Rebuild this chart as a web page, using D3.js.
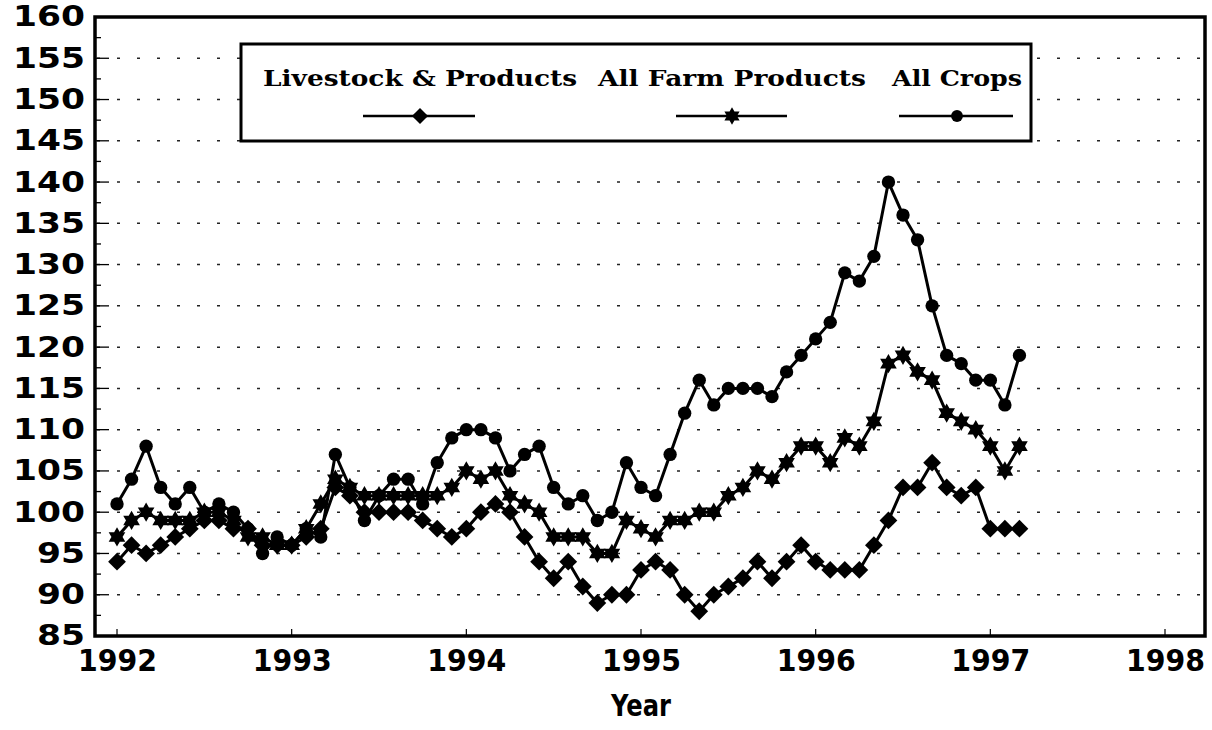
<!DOCTYPE html>
<html>
<head>
<meta charset="utf-8">
<script src="https://cdn.jsdelivr.net/npm/d3@7"></script>
<style>
  html, body { margin: 0; padding: 0; background: #fff; }
  svg { display: block; }
</style>
</head>
<body>
<svg id="chart" width="1212" height="730"></svg>
<script>
// ---- data (monthly, Jan 1992 .. Mar 1997) ----
const startYear = 1992;
const livestock = [
  94, 96, 95, 96, 97, 98, 99, 99, 98, 98, 96, 96,
  96, 97, 98, 103, 102, 100, 100, 100, 100, 99, 98, 97,
  98, 100, 101, 100, 97, 94, 92, 94, 91, 89, 90, 90,
  93, 94, 93, 90, 88, 90, 91, 92, 94, 92, 94, 96,
  94, 93, 93, 93, 96, 99, 103, 103, 106, 103, 102, 103,
  98, 98, 98
];
const allFarm = [
  97, 99, 100, 99, 99, 99, 100, 100, 99, 97, 97, 96,
  96, 98, 101, 104, 103, 102, 102, 102, 102, 102, 102, 103,
  105, 104, 105, 102, 101, 100, 97, 97, 97, 95, 95, 99,
  98, 97, 99, 99, 100, 100, 102, 103, 105, 104, 106, 108,
  108, 106, 109, 108, 111, 118, 119, 117, 116, 112, 111, 110,
  108, 105, 108
];
const allCrops = [
  101, 104, 108, 103, 101, 103, 100, 101, 100, 98, 95, 97,
  96, 98, 97, 107, 103, 99, 102, 104, 104, 101, 106, 109,
  110, 110, 109, 105, 107, 108, 103, 101, 102, 99, 100, 106,
  103, 102, 107, 112, 116, 113, 115, 115, 115, 114, 117, 119,
  121, 123, 129, 128, 131, 140, 136, 133, 125, 119, 118, 116,
  116, 113, 119
];
const yearTicks = [1992, 1993, 1994, 1995, 1996, 1997, 1998];
const yTicks = [85, 90, 95, 100, 105, 110, 115, 120, 125, 130, 135, 140, 145, 150, 155, 160];
const seriesNames = ["Livestock & Products", "All Farm Products", "All Crops"];
const xLabel = "Year";

// ---- layout ----
const svg = d3.select("#chart");
const L = 95, R = 1205, T = 17, B = 636;
const x = d3.scaleLinear().domain([1991.874, 1998.229]).range([L, R]);
const y = d3.scaleLinear().domain([85, 160]).range([B, T]);

// six-pointed star symbol (two triangles)
const star6 = {
  draw(ctx, size) {
    const r = Math.sqrt(size) * 0.62;
    for (let k = 0; k < 2; k++) {
      const off = k === 0 ? -Math.PI / 2 : Math.PI / 2;
      for (let j = 0; j < 3; j++) {
        const a = off + j * 2 * Math.PI / 3;
        const px = r * Math.cos(a), py = r * Math.sin(a);
        if (j === 0) ctx.moveTo(px, py); else ctx.lineTo(px, py);
      }
      ctx.closePath();
    }
  }
};
const diamondSym = {
  draw(ctx, size) {
    const r = Math.sqrt(size) * 0.6;
    ctx.moveTo(0, -r); ctx.lineTo(r, 0); ctx.lineTo(0, r); ctx.lineTo(-r, 0); ctx.closePath();
  }
};

// gridlines (dotted)
svg.append("g")
  .selectAll("line")
  .data(yTicks.filter(v => v > 85 && v < 160))
  .join("line")
  .attr("x1", L + 2).attr("x2", R - 2)
  .attr("y1", d => y(d)).attr("y2", d => y(d))
  .attr("stroke", "#222").attr("stroke-width", 1.5)
  .attr("stroke-dasharray", "3,17");

// inner tick marks on left axis (major & minor)
const minorTicks = d3.range(87.5, 160, 5);
svg.append("g").selectAll("line.maj")
  .data(yTicks).join("line")
  .attr("x1", L).attr("x2", L + 14)
  .attr("y1", d => y(d)).attr("y2", d => y(d))
  .attr("stroke", "#000").attr("stroke-width", 1.3);
svg.append("g").selectAll("line.min")
  .data(minorTicks).join("line")
  .attr("x1", L).attr("x2", L + 6)
  .attr("y1", d => y(d)).attr("y2", d => y(d))
  .attr("stroke", "#000").attr("stroke-width", 1.3);

// y-axis labels via d3 axis
const yAxis = d3.axisLeft(y).tickValues(yTicks).tickSize(0).tickPadding(10).tickFormat(d3.format("d"));
const gy = svg.append("g").attr("transform", `translate(${L},0)`).call(yAxis);
gy.select(".domain").remove();
gy.selectAll("text")
  .attr("font-family", "'DejaVu Sans', sans-serif")
  .attr("font-weight", "bold")
  .attr("font-size", 28)
  .attr("fill", "#000")
  .attr("lengthAdjust", "spacingAndGlyphs")
  .attr("textLength", d => String(d).length * 24);

// x-axis labels via d3 axis
const xAxis = d3.axisBottom(x).tickValues(yearTicks).tickSize(0).tickPadding(14).tickFormat(d3.format("d"));
const gx = svg.append("g").attr("transform", `translate(0,${B})`).call(xAxis);
gx.select(".domain").remove();
gx.selectAll("text")
  .attr("font-family", "'DejaVu Sans', sans-serif")
  .attr("font-weight", "bold")
  .attr("font-size", 30)
  .attr("fill", "#000")
  .attr("lengthAdjust", "spacingAndGlyphs")
  .attr("textLength", 79);

// year tick marks (inside, small)
svg.append("g").selectAll("line")
  .data(yearTicks).join("line")
  .attr("x1", d => x(d)).attr("x2", d => x(d))
  .attr("y1", B).attr("y2", B - 7)
  .attr("stroke", "#000").attr("stroke-width", 1.2);

// x-axis title
svg.append("text")
  .attr("x", (L + R) / 2 - 9).attr("y", 716)
  .attr("text-anchor", "middle")
  .attr("font-family", "'DejaVu Sans', sans-serif")
  .attr("font-weight", "bold").attr("font-size", 30)
  .attr("lengthAdjust", "spacingAndGlyphs")
  .attr("textLength", 60)
  .text(xLabel);

// frame
svg.append("rect")
  .attr("x", L).attr("y", T).attr("width", R - L).attr("height", B - T)
  .attr("fill", "none").attr("stroke", "#000").attr("stroke-width", 3.5);

// series
const series = [
  { name: seriesNames[2], values: allCrops, sym: d3.symbolCircle, size: 140 },
  { name: seriesNames[1], values: allFarm, sym: star6, size: 240 },
  { name: seriesNames[0], values: livestock, sym: diamondSym, size: 220 }
];
const line = d3.line().x((d, i) => x(startYear + i / 12)).y(d => y(d));

series.forEach(s => {
  const g = svg.append("g");
  g.append("path").datum(s.values)
    .attr("d", line)
    .attr("fill", "none").attr("stroke", "#000").attr("stroke-width", 3)
    .attr("stroke-linejoin", "round");
  g.selectAll("path.m").data(s.values).join("path")
    .attr("class", "m")
    .attr("transform", (d, i) => `translate(${x(startYear + i / 12)},${y(d)})`)
    .attr("d", d3.symbol().type(s.sym).size(s.size))
    .attr("fill", "#000");
});

// legend
const lg = svg.append("g");
lg.append("rect").attr("x", 241).attr("y", 44).attr("width", 790).attr("height", 97)
  .attr("fill", "#fff").attr("stroke", "#000").attr("stroke-width", 3);
const legendItems = [
  { name: seriesNames[0], cx: 420, tw: 314, sym: diamondSym, size: 180, lx: 363, rx: 475 },
  { name: seriesNames[1], cx: 732, tw: 268, sym: star6, size: 200, lx: 676, rx: 787 },
  { name: seriesNames[2], cx: 957, tw: 130, sym: d3.symbolCircle, size: 110, lx: 899, rx: 1013 }
];
legendItems.forEach(it => {
  lg.append("text").attr("x", it.cx).attr("y", 86)
    .attr("text-anchor", "middle")
    .attr("font-family", "'DejaVu Serif', serif")
    .attr("font-weight", "bold").attr("font-size", 22)
    .attr("lengthAdjust", "spacingAndGlyphs")
    .attr("textLength", it.tw)
    .text(it.name);
  lg.append("line").attr("x1", it.lx).attr("x2", it.rx).attr("y1", 116).attr("y2", 116)
    .attr("stroke", "#000").attr("stroke-width", 2.4);
  lg.append("path").attr("transform", `translate(${it.cx},116)`)
    .attr("d", d3.symbol().type(it.sym).size(it.size)).attr("fill", "#000");
});
</script>
</body>
</html>
